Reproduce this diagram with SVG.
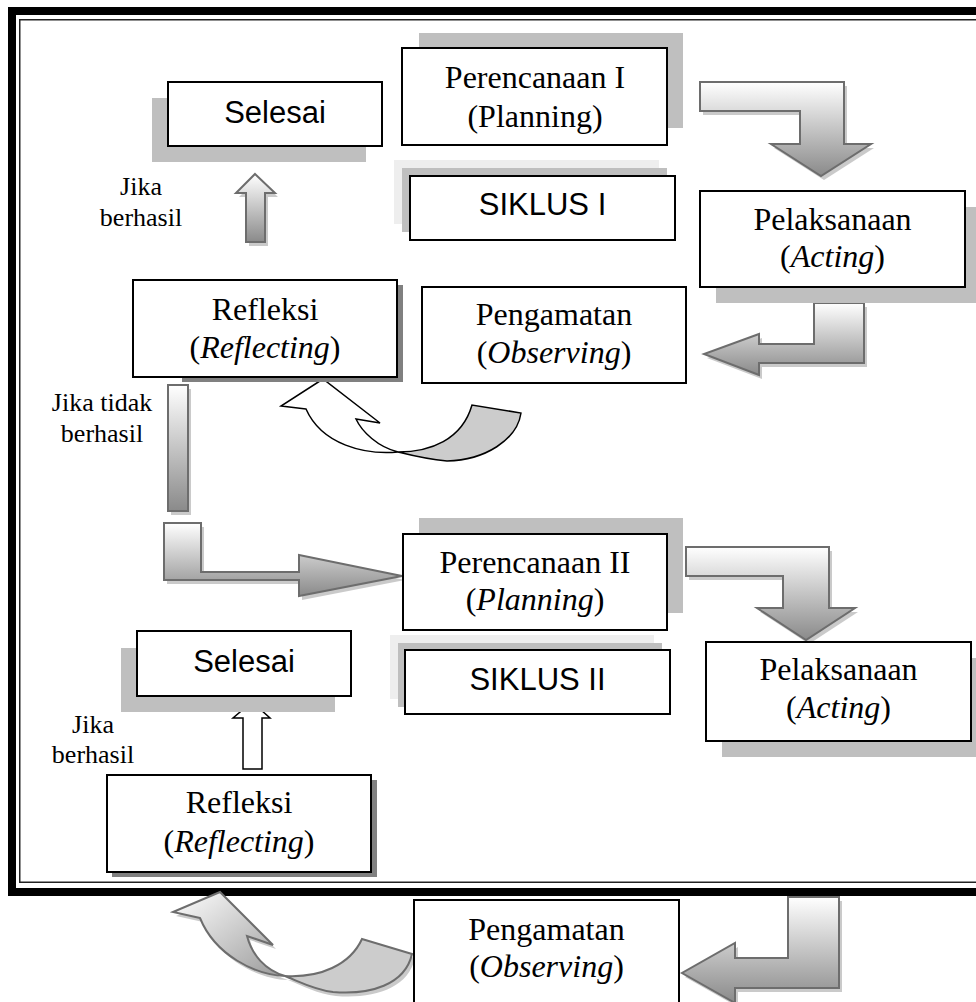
<svg xmlns="http://www.w3.org/2000/svg" xmlns:xlink="http://www.w3.org/1999/xlink" width="976" height="1002" viewBox="0 0 976 1002">
<style>
.box{fill:#fff;stroke:#000;stroke-width:2}
.shd{fill:#bfbfbf}
.shl{fill:#eeeeee}
.shk{fill:#808080}
.ser{font-family:"Liberation Serif","Times New Roman",serif;font-size:32px;fill:#000;text-anchor:middle}
.san{font-family:"Liberation Sans",Arial,sans-serif;font-size:31px;fill:#000;text-anchor:middle}
.lbl{font-family:"Liberation Serif","Times New Roman",serif;font-size:26px;fill:#000;text-anchor:middle}
.it{font-style:italic}
.arr{fill:url(#gv);stroke:#6d6d6d;stroke-width:2;stroke-linejoin:miter}
.ash{fill:#b4b4b4;opacity:.7}
</style>
<defs>
<linearGradient id="gv" x1="0" y1="0" x2="0" y2="1">
<stop offset="0" stop-color="#ffffff"/>
<stop offset="1" stop-color="#8a8a8a"/>
</linearGradient>
<linearGradient id="gd" x1="0" y1="0" x2="1" y2="1">
<stop offset="0" stop-color="#ffffff"/>
<stop offset="1" stop-color="#9a9a9a"/>
</linearGradient>
<path id="pD" d="M700,82 L844,82 L844,144 L871,144 L821,176 L771,144 L800,144 L800,111 L700,111 Z"/>
<path id="pE" d="M814,303 L864,303 L864,363 L759,363 L759,375 L704,354 L759,334 L759,344 L814,344 Z"/>
<path id="pC" d="M164,523 L201,523 L201,572 L299,572 L299,555 L402,576 L299,596 L299,580 L164,580 Z"/>
<path id="pG" d="M686,547 L829,547 L829,608 L855,608 L806,640 L757,608 L783,608 L783,576 L686,576 Z"/>
<path id="pJ" d="M788,897 L839,897 L839,988 L735,988 L735,1003 L682,973 L735,943 L735,958 L788,958 Z"/>
<path id="pA" d="M255,174 L275,193 L265,193 L265,242 L246,242 L246,193 L236,193 Z"/>
<path id="pB" d="M168,385 L188,385 L188,511 L168,511 Z"/>
</defs>

<g id="frame">
<rect x="12" y="11" width="1000" height="881" fill="none" stroke="#000" stroke-width="8"/>
<rect x="19.75" y="19.75" width="1000" height="862.5" fill="none" stroke="#222" stroke-width="1.5"/>
</g>

<g id="connectors">
<use xlink:href="#pA" class="ash" transform="translate(3,4)"/>
<use xlink:href="#pA" class="arr"/>
<use xlink:href="#pB" class="ash" transform="translate(3,4)"/>
<use xlink:href="#pB" class="arr"/>
<use xlink:href="#pC" class="ash" transform="translate(3,4)"/>
<use xlink:href="#pC" class="arr"/>
<use xlink:href="#pD" class="ash" transform="translate(3,4)"/>
<use xlink:href="#pD" class="arr"/>
<use xlink:href="#pE" class="ash" transform="translate(3,4)"/>
<use xlink:href="#pE" class="arr"/>
<use xlink:href="#pG" class="ash" transform="translate(3,4)"/>
<use xlink:href="#pG" class="arr"/>
<use xlink:href="#pJ" class="ash" transform="translate(3,4)"/>
<use xlink:href="#pJ" class="arr"/>
<g id="curve1" stroke="#000" stroke-width="1.5" stroke-linejoin="miter">
<path d="M398,452 C430,452 462,440 472,405 L521,413 C517,440 485,460 447,461 C425,459 410,455 398,452 Z" fill="#cccccc"/>
<path d="M306,409 L281,406 L323,379 L380,423 L356,419 C362,432 378,447 398,452 C365,455 322,445 306,409 Z" fill="#ffffff"/>
</g>
<g id="curve2">
<g transform="translate(3,4)" class="ash">
<path d="M285,976 C320,978 350,965 362,939 L412,954 C405,985 370,995 333,992 C315,990 300,982 285,976 Z"/>
<path d="M200,918 L173,912 L220,892 L273,945 L247,936 C252,955 265,970 285,976 C255,975 215,955 200,918 Z"/>
</g>
<path d="M285,976 C320,978 350,965 362,939 L412,954 C405,985 370,995 333,992 C315,990 300,982 285,976 Z" fill="#cccccc" stroke="#6d6d6d" stroke-width="2"/>
<path d="M200,918 L173,912 L220,892 L273,945 L247,936 C252,955 265,970 285,976 C255,975 215,955 200,918 Z" fill="url(#gd)" stroke="#6d6d6d" stroke-width="2"/>
</g>
<path id="upArrow2" d="M252,702 L270,718 L262,718 L262,769 L243,769 L243,718 L233,718 Z" fill="#fff" stroke="#000" stroke-width="1.5"/>
</g>

<g id="selesai1">
<rect class="shd" x="152" y="98" width="214" height="64"/>
<rect class="box" x="168" y="82" width="214" height="64"/>
<text class="san" x="275" y="123">Selesai</text>
</g>

<g id="perencanaan1">
<rect class="shd" x="419" y="33" width="264" height="95"/>
<rect class="box" x="402" y="48" width="265" height="97"/>
<text class="ser" x="535" y="88">Perencanaan I</text>
<text class="ser" x="535" y="127">(Planning)</text>
</g>

<g id="siklus1">
<rect class="shl" x="394" y="160" width="265" height="64"/>
<rect class="shd" x="402" y="168" width="265" height="64"/>
<rect class="box" x="410" y="176" width="265" height="64"/>
<text class="san" x="542.5" y="215">SIKLUS I</text>
</g>

<g id="pelaksanaan1">
<rect class="shd" x="716" y="207" width="265" height="96"/>
<rect class="box" x="700" y="191" width="265" height="96"/>
<text class="ser" x="832.5" y="230">Pelaksanaan</text>
<text class="ser" x="832.5" y="267">(<tspan class="it">Acting</tspan>)</text>
</g>

<g id="refleksi1">
<rect class="shk" x="182" y="285" width="221" height="97"/>
<rect class="box" x="133" y="280" width="264" height="97"/>
<text class="ser" x="265" y="320">Refleksi</text>
<text class="ser" x="265" y="358">(<tspan class="it">Reflecting</tspan>)</text>
</g>

<g id="pengamatan1">
<rect class="box" x="422" y="287" width="264" height="96"/>
<text class="ser" x="554" y="325">Pengamatan</text>
<text class="ser" x="554" y="363">(<tspan class="it">Observing</tspan>)</text>
</g>

<g id="labels">
<text class="lbl" x="141" y="195">Jika</text>
<text class="lbl" x="141" y="226">berhasil</text>
<text class="lbl" x="102" y="411">Jika tidak</text>
<text class="lbl" x="102" y="442">berhasil</text>
<text class="lbl" x="93" y="733">Jika</text>
<text class="lbl" x="93" y="763">berhasil</text>
</g>

<g id="perencanaan2">
<rect class="shd" x="419" y="518" width="264" height="95"/>
<rect class="box" x="403" y="534" width="264" height="96"/>
<text class="ser" x="535" y="573">Perencanaan II</text>
<text class="ser" x="535" y="610">(<tspan class="it">Planning</tspan>)</text>
</g>

<g id="siklus2">
<rect class="shl" x="390" y="635" width="264" height="64"/>
<rect class="shd" x="398" y="643" width="264" height="64"/>
<rect class="box" x="405" y="650" width="265" height="64"/>
<text class="san" x="537.5" y="690">SIKLUS II</text>
</g>

<g id="pelaksanaan2">
<rect class="shd" x="722" y="658" width="265" height="99"/>
<rect class="box" x="706" y="642" width="265" height="99"/>
<text class="ser" x="838.5" y="680">Pelaksanaan</text>
<text class="ser" x="838.5" y="718">(<tspan class="it">Acting</tspan>)</text>
</g>

<g id="selesai2">
<rect class="shd" x="121" y="648" width="214" height="64"/>
<rect class="box" x="137" y="631" width="214" height="65"/>
<text class="san" x="244" y="672">Selesai</text>
</g>

<g id="refleksi2">
<rect class="shk" x="112" y="780" width="265" height="97"/>
<rect class="box" x="107" y="775" width="264" height="97"/>
<text class="ser" x="239" y="813">Refleksi</text>
<text class="ser" x="239" y="852">(<tspan class="it">Reflecting</tspan>)</text>
</g>

<g id="pengamatan2">
<rect class="box" x="414" y="900" width="265" height="120"/>
<text class="ser" x="546.5" y="940">Pengamatan</text>
<text class="ser" x="546.5" y="977">(<tspan class="it">Observing</tspan>)</text>
</g>
</svg>
